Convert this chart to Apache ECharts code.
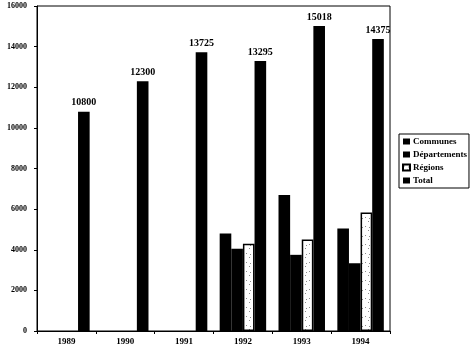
<!DOCTYPE html>
<html><head><meta charset="utf-8">
<script src="https://cdn.jsdelivr.net/npm/echarts@6/dist/echarts.min.js"></script>
<style>html,body{margin:0;padding:0;background:#fff}#c{width:472px;height:351px}</style>
</head><body><div id="c"></div>
<script>
var years = ['1989','1990','1991','1992','1993','1994'];
var communes = [null, null, null, 4800, 6700, 5050];
var departements = [null, null, null, 4050, 3750, 3330];
var regions = [null, null, null, 4300, 4500, 5830];
var total = [10800, 12300, 13725, 13295, 15018, 14375];
var yTicks = [0, 2000, 4000, 6000, 8000, 10000, 12000, 14000, 16000];

// dotted fill pattern for the Régions bars
var pat = document.createElement('canvas');
pat.width = 7; pat.height = 9;
var pc = pat.getContext('2d');
pc.fillStyle = '#fff'; pc.fillRect(0, 0, 7, 9);
pc.fillStyle = 'rgba(0,0,0,0.45)';
pc.fillRect(1, 1, 1, 1); pc.fillRect(4, 5, 1, 1); pc.fillRect(5, 2, 1, 1);

var FONT = '"Liberation Serif", "DejaVu Serif", serif';
var chart = echarts.init(document.getElementById('c'), null, {renderer: 'canvas'});
chart.setOption({
  animation: false,
  backgroundColor: '#fff',
  textStyle: {fontFamily: FONT},
  grid: {left: 37, right: 82, top: 6, bottom: 20, show: true, borderColor: '#000', borderWidth: 1},
  legend: {
    orient: 'vertical', left: 399, top: 134,
    icon: 'rect',
    itemWidth: 7, itemHeight: 6, itemGap: 4,
    padding: [3, 2, 3, 3],
    borderColor: '#000', borderWidth: 1, backgroundColor: '#fff',
    textStyle: {fontFamily: FONT, fontSize: 9, fontWeight: 'bold', color: '#000', padding: [0, 0, 0, -2]},
    data: ['Communes', 'Départements', 'Régions', 'Total']
  },
  xAxis: {
    type: 'category', data: years,
    axisLine: {lineStyle: {color: '#000', width: 1}},
    axisTick: {show: true, length: 3, lineStyle: {color: '#000'}},
    axisLabel: {fontFamily: FONT, fontSize: 9, fontWeight: 'bold', color: '#000', margin: 6}
  },
  yAxis: {
    type: 'value', min: 0, max: 16000, interval: 2000,
    axisLine: {show: true, lineStyle: {color: '#000', width: 1}},
    axisTick: {show: true, length: 3, lineStyle: {color: '#000'}},
    splitLine: {show: false},
    axisLabel: {fontFamily: FONT, fontSize: 8, fontWeight: 'bold', color: '#000', margin: 10,
      formatter: function (v) { return yTicks.indexOf(v) >= 0 ? String(v) : ''; }}
  },
  series: [
    {name: 'Communes', type: 'bar', data: communes, barGap: '0%', barCategoryGap: '21%',
      itemStyle: {color: '#000'}},
    {name: 'Départements', type: 'bar', data: departements, itemStyle: {color: '#000'}},
    {name: 'Régions', type: 'bar', data: regions,
      itemStyle: {color: {image: pat, repeat: 'repeat'}, borderColor: '#000', borderWidth: 1.5}},
    {name: 'Total', type: 'bar', data: total, itemStyle: {color: '#000'},
      label: {show: true, position: 'top', distance: 4, fontFamily: FONT, fontSize: 10, fontWeight: 'bold', color: '#000'}}
  ]
});
</script></body></html>
